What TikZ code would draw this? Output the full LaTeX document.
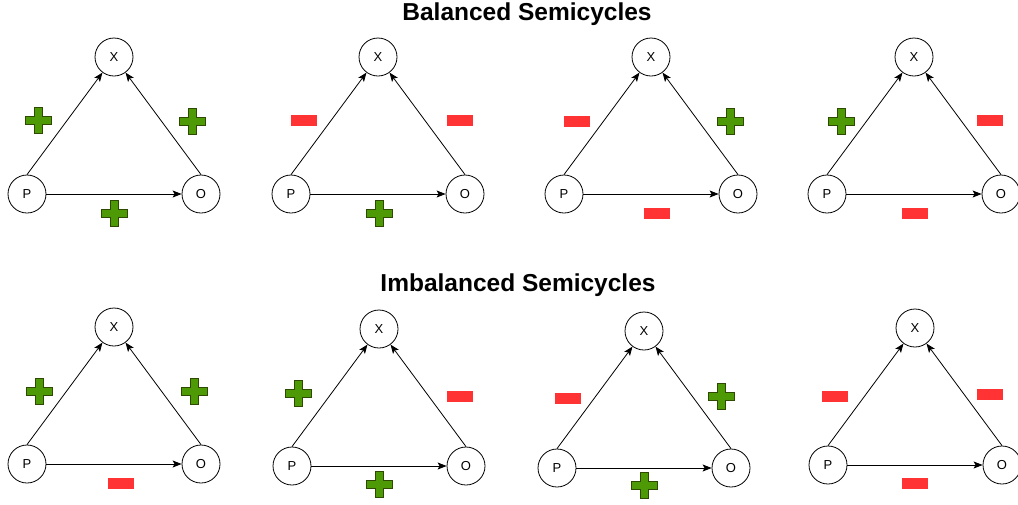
\documentclass[tikz,border=0pt]{standalone}
\usepackage{fontspec}
\setmainfont{Liberation Sans}
\usetikzlibrary{arrows.meta}
\definecolor{plusfill}{HTML}{4E9A06}
\definecolor{plusdraw}{HTML}{2D4A00}
\definecolor{minusfill}{HTML}{FF3333}
\tikzset{
 vert/.style={circle, draw, line width=0.8pt, minimum size=38pt, inner sep=0pt, font=\fontsize{13}{15}\selectfont},
 rel/.style={line width=0.8pt, -{Stealth[length=9pt,width=7pt,inset=2pt]}},
 plussign/.pic={\filldraw[fill=plusfill, draw=plusdraw, line width=0.8pt] (-13,-4) -- (-4,-4) -- (-4,-13) -- (4,-13) -- (4,-4) -- (13,-4) -- (13,4) -- (4,4) -- (4,13) -- (-4,13) -- (-4,4) -- (-13,4) -- cycle;},
 minussign/.pic={\fill[minusfill] (-13,-5.5) rectangle (13,5.5);},
 title/.style={font=\bfseries\fontsize{24.5}{27}\selectfont}
}
\newcommand\semitriad[3]{%
 \node[vert] (X#1) at (#2,#3) {X};
 \node[vert] (P#1) at (#2-87,#3+137) {P};
 \node[vert] (O#1) at (#2+87,#3+137) {O};
 \draw[rel] (P#1.north) -- (X#1);
 \draw[rel] (O#1.north) -- (X#1);
 \draw[rel] (P#1) -- (O#1);
}
\begin{document}
\begin{tikzpicture}[x=1pt,y=-1pt]
\fill[white] (0,0) rectangle (1018,504);
\useasboundingbox (0,0) rectangle (1018,504);
\node[title] (t1) at (527,14) {Balanced Semicycles};
\node[title] (t2) at (518,285) {Imbalanced Semicycles};
% top row
\semitriad{a}{114}{57}
\semitriad{b}{378}{57}
\semitriad{c}{651}{57}
\semitriad{d}{914}{57}
% bottom row
\semitriad{e}{114}{327}
\semitriad{f}{379}{329}
\semitriad{g}{644}{331}
\semitriad{h}{915}{328}
% signs top row
\pic at (38,120) {plussign};
\pic at (192,121) {plussign};
\pic at (114,213) {plussign};
\pic at (304,120) {minussign};
\pic at (460,120) {minussign};
\pic at (379,213) {plussign};
\pic at (577,121) {minussign};
\pic at (730,121) {plussign};
\pic at (657,213) {minussign};
\pic at (841,121) {plussign};
\pic at (990,120) {minussign};
\pic at (915,213) {minussign};
% signs bottom row
\pic at (39,391) {plussign};
\pic at (194,391) {plussign};
\pic at (121,483) {minussign};
\pic at (298,393) {plussign};
\pic at (460,396) {minussign};
\pic at (379,484) {plussign};
\pic at (568,398) {minussign};
\pic at (721,396) {plussign};
\pic at (644,485) {plussign};
\pic at (835,396) {minussign};
\pic at (990,394) {minussign};
\pic at (915,483) {minussign};
\end{tikzpicture}
\end{document}
